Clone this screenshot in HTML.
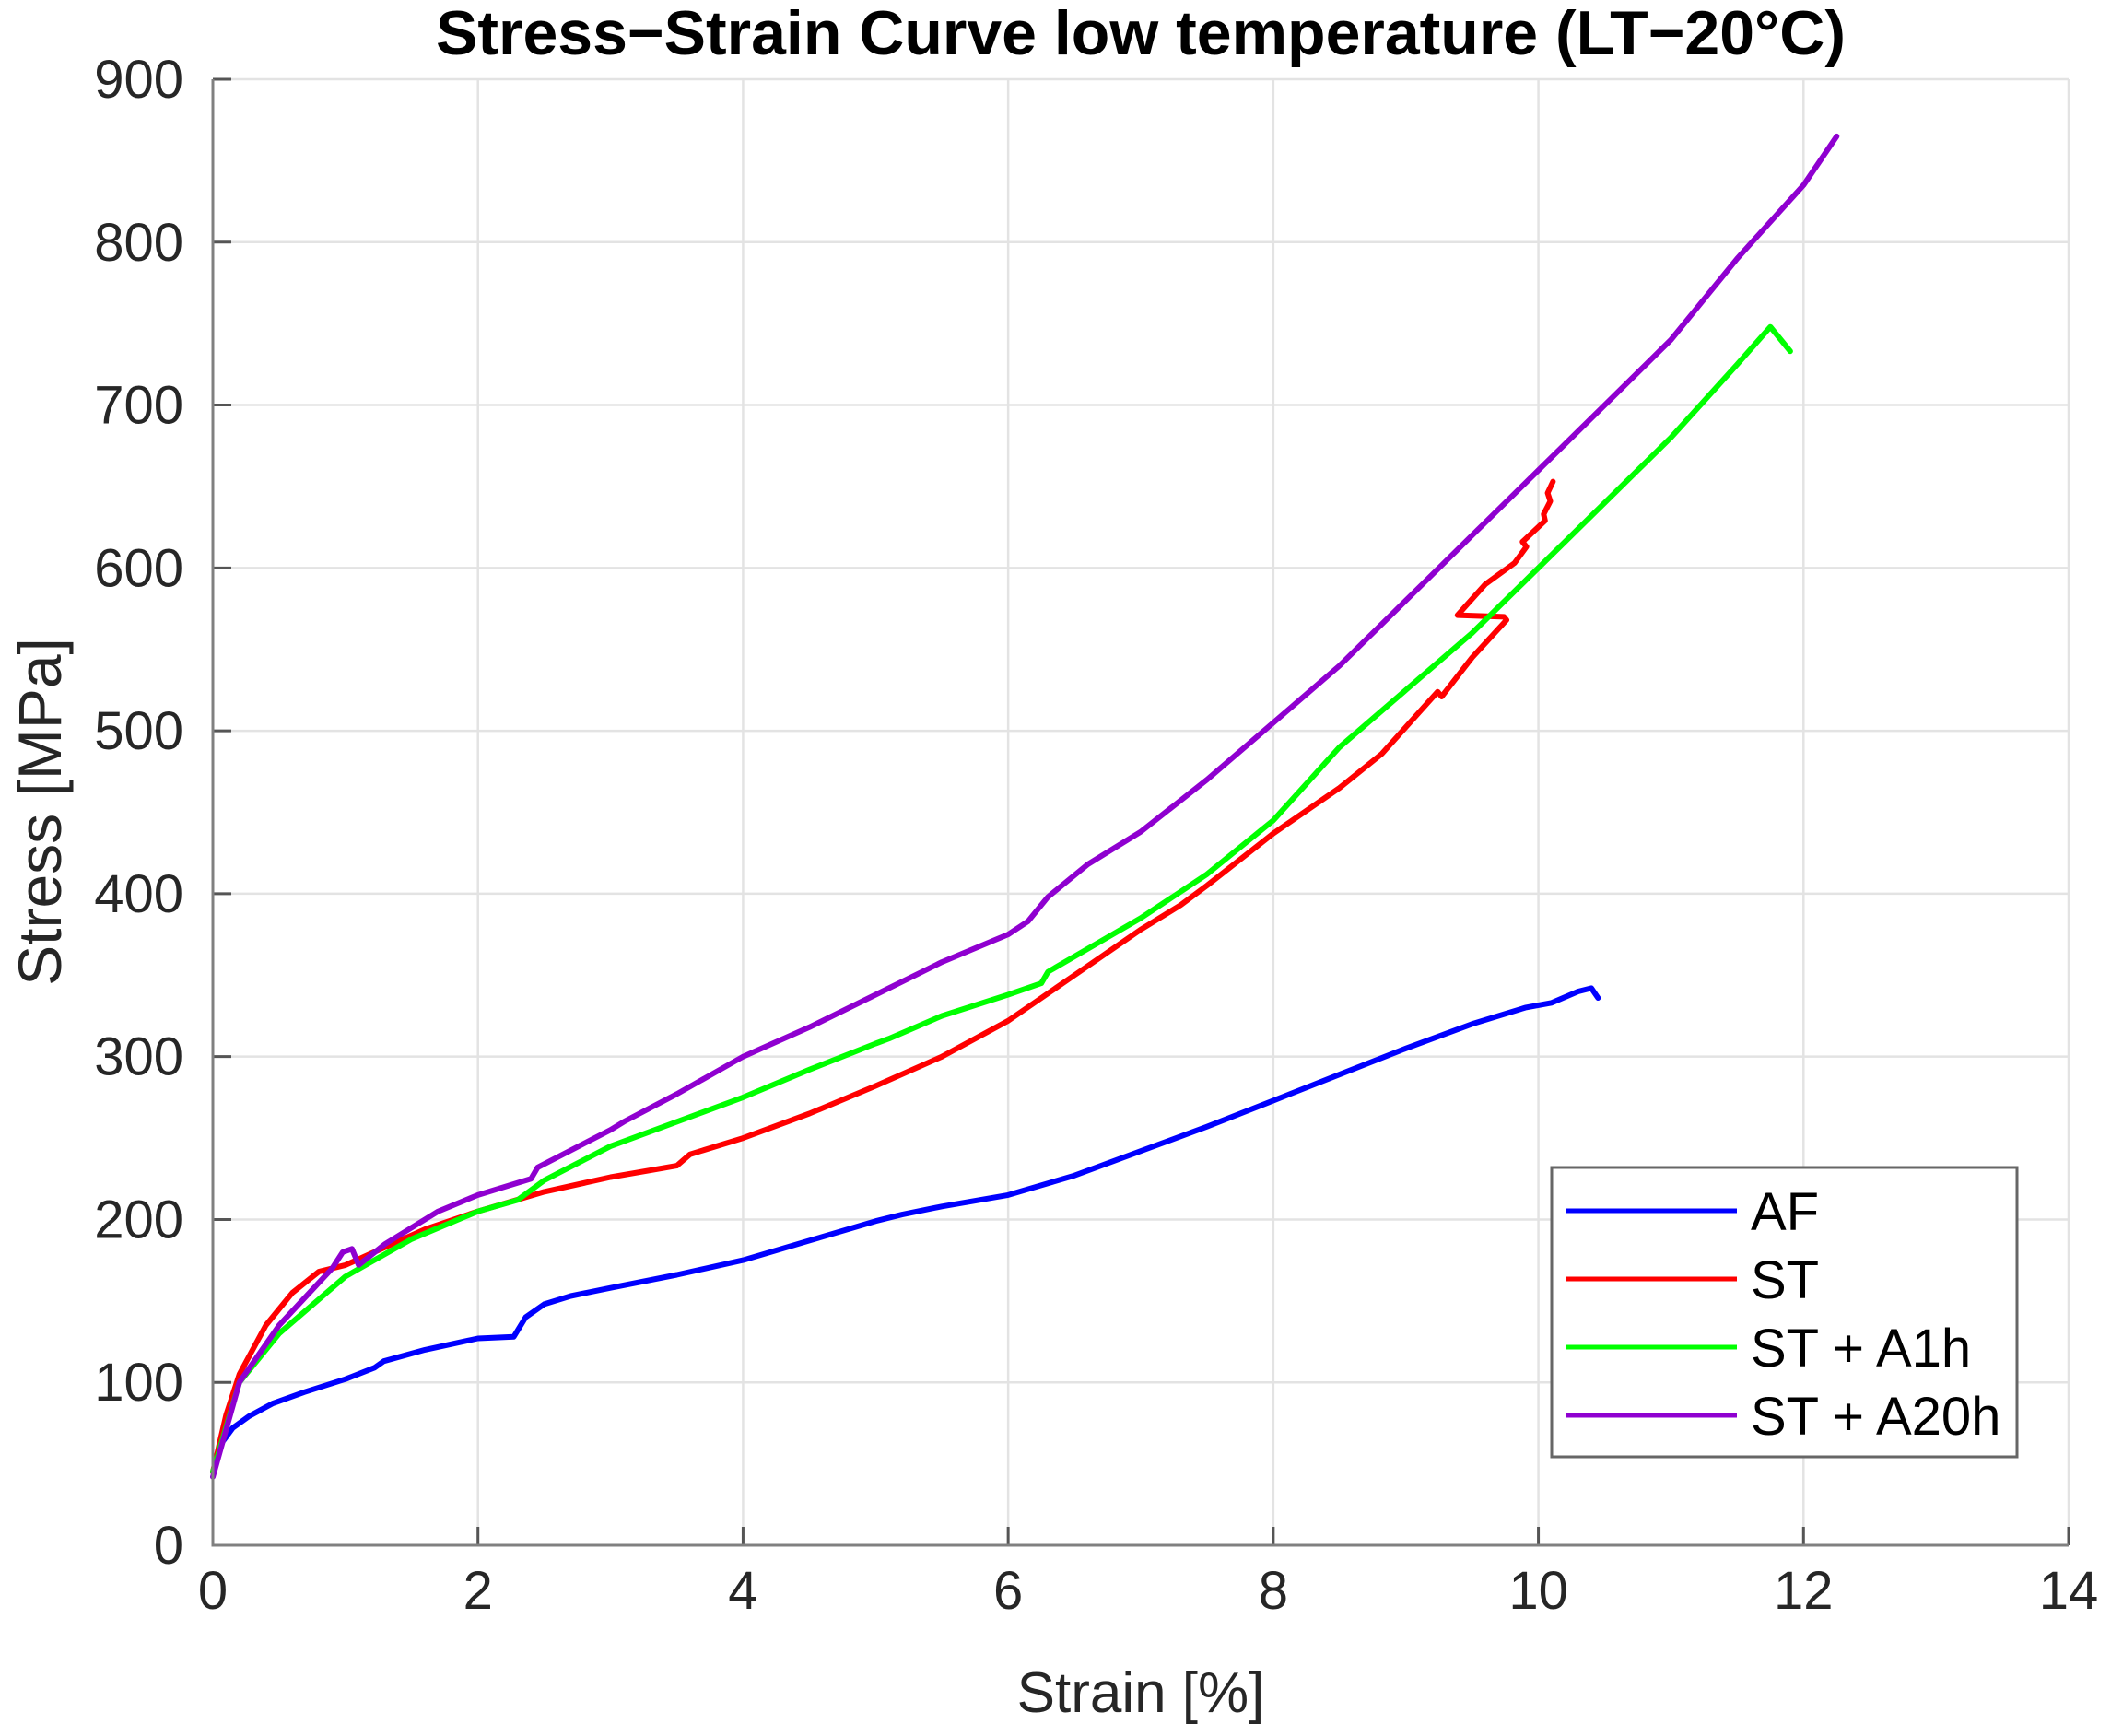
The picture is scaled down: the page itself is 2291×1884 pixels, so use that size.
<!DOCTYPE html>
<html><head><meta charset="utf-8"><style>
html,body{margin:0;padding:0;background:#fff;}
svg{display:block;font-family:"Liberation Sans",Arial,sans-serif;}
</style></head><body>
<svg id="chart" width="2291" height="1884" viewBox="0 0 2291 1884">
<rect width="2291" height="1884" fill="#fff"/>
<g id="grid"></g>
<g id="series"></g>
<g id="axes"></g>
<text x="1238" y="59" font-size="68" font-weight="bold" text-anchor="middle" fill="#000">Stress−Strain Curve low temperature (LT−20°C)</text>
<text x="1238" y="1858" font-size="62" text-anchor="middle" fill="#262626">Strain [%]</text>
<text transform="translate(66,881) rotate(-90)" font-size="66" text-anchor="middle" fill="#262626">Stress [MPa]</text>
<g id="legend">
<rect x="1684" y="1267" width="505" height="314" fill="#fff" stroke="#666" stroke-width="3"/>
</g>
</svg>
<script>
const xTicks=[0,2,4,6,8,10,12,14];
const yTicks=[0,100,200,300,400,500,600,700,800,900];
const seriesNames=["AF","ST","ST + A1h","ST + A20h"];
const seriesColors=["#0000ff","#ff0000","#00ff00","#8f00d0"];
const afX=[0,0.06,0.15,0.27,0.45,0.69,1.0,1.22,1.29,1.6,2.0,2.27,2.36,2.5,2.7,3,3.5,4,4.5,5,5.2,5.5,6,6.5,7,7.5,8,8.5,9,9.5,9.9,10.1,10.3,10.4,10.45];
const afY=[45,62,72,79,87,94,102,109,113,120,127,128,140,148,153,158,166,175,187,199,203,208,215,227,242,257,273,289,305,320,330,333,340,342,336];
const stX=[0,0.1,0.2,0.4,0.6,0.8,1,1.3,1.6,2,2.5,3,3.5,3.6,4,4.5,5,5.5,6,6.5,7,7.3,7.5,8,8.5,8.82,9.24,9.27,9.5,9.76,9.74,9.39,9.6,9.82,9.91,9.88,10.05,10.04,10.09,10.07,10.11];
const stY=[45,80,105,135,155,168,172,183,194,205,217,226,233,240,250,265,282,300,322,350,378,393,405,437,465,486,524,521,545,568,570,571,590,603,613,616,629,633,641,646,653];
const a1X=[0,0.2,0.5,1,1.5,2,2.3,2.5,3,3.5,4,4.5,5,5.1,5.5,6,6.25,6.3,7,7.5,8,8.5,9,9.5,10,10.5,11,11.5,11.75,11.9];
const a1Y=[45,100,130,165,188,205,212,224,245,260,275,292,308,311,325,338,345,352,385,412,445,490,525,560,600,640,680,725,748,733];
const a20X=[0,0.2,0.5,0.9,0.98,1.05,1.1,1.3,1.7,2,2.4,2.45,3,3.1,3.5,4,4.5,5,5.5,6,6.15,6.3,6.6,7,7.5,8,8.5,9,9.5,10,10.5,11,11.2,11.5,12,12.25];
const a20Y=[42,100,135,170,180,182,172,185,205,215,225,232,255,260,277,300,318,338,358,375,383,398,418,438,470,505,540,580,620,660,700,740,760,790,835,865];

const NS="http://www.w3.org/2000/svg";
const X0=231,X1=2245,Y0=1677,Y1=86;
const xs=v=>X0+(v-0)/(14-0)*(X1-X0);
const ys=v=>Y0-(v-0)/(900-0)*(Y0-Y1);
function mk(tag,attrs,parent){const e=document.createElementNS(NS,tag);for(const k in attrs)e.setAttribute(k,attrs[k]);parent.appendChild(e);return e;}
const grid=document.getElementById('grid'),axes=document.getElementById('axes'),ser=document.getElementById('series'),leg=document.getElementById('legend');
xTicks.forEach(t=>{
  const g=mk('line',{x1:xs(t),x2:xs(t),y1:Y0,y2:Y1,stroke:'#e3e3e3','stroke-width':2.5},grid);
  
  
  const tk=mk('line',{x1:xs(t),x2:xs(t),y1:Y0,y2:Y0-20,stroke:'#555','stroke-width':3},axes);
  
  
  const tx=mk('text',{x:xs(t),y:Y0+69,'font-size':58,'text-anchor':'middle',fill:'#262626'},axes);
  tx.textContent=t;
  
  
});
yTicks.forEach(t=>{
  const g=mk('line',{x1:X0,x2:X1,y1:ys(t),y2:ys(t),stroke:'#e3e3e3','stroke-width':2.5},grid);
  
  
  const tk=mk('line',{x1:X0,x2:X0+20,y1:ys(t),y2:ys(t),stroke:'#555','stroke-width':3},axes);
  
  
  const tx=mk('text',{x:X0-32,y:ys(t)+20,'font-size':58,'text-anchor':'end',fill:'#262626'},axes);
  tx.textContent=t;
  
  
});
const ax=mk('path',{d:`M${X0},${Y1}V${Y0}H${X1}`,fill:'none',stroke:'#808080','stroke-width':3},axes);


const data=[[afX,afY],[stX,stY],[a1X,a1Y],[a20X,a20Y]];
const ids=['af','st','st-a1h','st-a20h'];
data.forEach((d,i)=>{
  const pts=d[0].map((x,j)=>xs(x).toFixed(1)+','+ys(d[1][j]).toFixed(1)).join(' ');
  const p=mk('polyline',{points:pts,fill:'none',stroke:seriesColors[i],'stroke-width':6,'stroke-linejoin':'round','stroke-linecap':'round'},ser);
  
  
  const ly=1314+i*74;
  const l=mk('line',{x1:1700,x2:1885,y1:ly,y2:ly,stroke:seriesColors[i],'stroke-width':5},leg);
  
  
  const t=mk('text',{x:1900,y:ly+21,'font-size':58,fill:'#000'},leg);
  t.textContent=seriesNames[i];
  
  
});
</script>
</body></html>
